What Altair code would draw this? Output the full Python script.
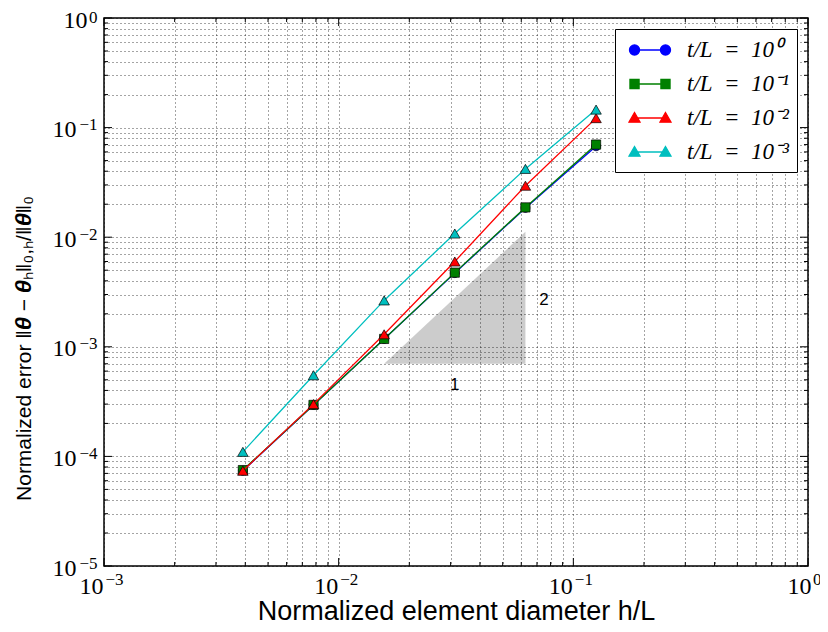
import altair as alt
import pandas as pd

# ---------------- data ----------------
h_values = [1/256, 1/128, 1/64, 1/32, 1/16, 1/8]
series_names = ["t/L\u2002=\u200210⁰", "t/L\u2002=\u200210⁻¹", "t/L\u2002=\u200210⁻²", "t/L\u2002=\u200210⁻³"]
err_t1 = [7.4e-5, 2.95e-4, 1.18e-3, 4.7e-3, 1.85e-2, 6.75e-2]
err_t01 = [7.5e-5, 2.95e-4, 1.18e-3, 4.75e-3, 1.87e-2, 7.0e-2]
err_t001 = [7.4e-5, 3.0e-4, 1.3e-3, 6.0e-3, 2.95e-2, 1.22e-1]
err_t0001 = [1.1e-4, 5.5e-4, 2.65e-3, 1.08e-2, 4.2e-2, 1.46e-1]
series_values = [err_t1, err_t01, err_t001, err_t0001]
series_colors = ["#0000ff", "#008000", "#ff0000", "#00bfbf"]
series_shapes = ["circle", "square", "triangle-up", "triangle-up"]
series_sizes = [80, 85, 110, 110]

x_major = [1e-3, 1e-2, 1e-1, 1.0]
x_exponents = ["−3", "−2", "−1", "0"]
y_major = [1e-5, 1e-4, 1e-3, 1e-2, 1e-1, 1.0]
y_exponents = ["−5", "−4", "−3", "−2", "−1", "0"]
tick_base = "10"
minor_mult = [2, 3, 4, 5, 6, 7, 8, 9]

slope_x = [1/64, 1/16]
slope_y = [7e-4, 1.12e-2]
slope_base = [7e-4, 7e-4]
slope_text = ["1", "2"]
slope_text_x = [1/32, 0.0749]
slope_text_y = [4.5e-4, 2.69e-3]

# ---------------- tables ----------------
rows = []
for name, vals in zip(series_names, series_values):
    for h, e in zip(h_values, vals):
        rows.append({"series": name, "h": h, "err": e})
df = pd.DataFrame(rows)

x_minor = [m * 10.0 ** e for e in range(-3, 0) for m in minor_mult]
y_minor = [m * 10.0 ** e for e in range(-5, 0) for m in minor_mult]
x_all = sorted(x_major + x_minor)
y_all = sorted(y_major + y_minor)


def label_expr(vals, labels):
    expr = "''"
    for v, l in zip(reversed(vals), reversed(labels)):
        expr = f"datum.value == {v!r} ? '{l}' : (" + expr + ")"
    return expr


def cond(test, a, b):
    return {"condition": {"test": test, "value": a}, "value": b}


W, H = 704, 548
xscale = alt.Scale(type="log", domain=[1e-3, 1.0], nice=False)
yscale = alt.Scale(type="log", domain=[1e-5, 1.0], nice=False)

common = dict(ticks=False, domain=False, labelOverlap=False, labelFlush=False,
              labelFont="Liberation Serif", labelColor="black",
              titleFont="Liberation Sans", titleFontWeight="normal", titleColor="black")
grid_kw = dict(grid=True, gridColor="#000000", gridDash=[1, 3], gridOpacity=0.8,
               gridWidth=0.9)
is_one = "datum.value == 1"

# base "10" axes (with grid and titles)
x_axis = alt.Axis(orient="bottom", values=x_all,
                  labelExpr=label_expr(x_major, [tick_base] * 4),
                  labelFontSize=24, labelAlign="right", labelPadding=8,
                  labelOffset=cond(is_one, 3, -1),
                  title="Normalized element diameter h/L", titleFontSize=27,
                  titleBaseline="alphabetic", titleY=53, **grid_kw, **common)
y_axis = alt.Axis(orient="left", values=y_all,
                  labelExpr=label_expr(y_major, [tick_base] * 6),
                  labelFontSize=24, labelAlign="right", labelBaseline="middle",
                  labelPadding=cond(is_one, 17, 28), labelOffset=2,
                  title="Normalized error ‖𝜽 − 𝜽ₕ‖₀,ₕ/‖𝜽‖₀", titleFontSize=21,
                  titleAngle=270, titleAlign="center", titleAnchor="middle",
                  titleBaseline="middle", titleX=-80, titleY=330, **grid_kw, **common)
# exponent axes (superscripts)
x_axis_exp = alt.Axis(orient="bottom", values=x_major,
                      labelExpr=label_expr(x_major, x_exponents),
                      labelFontSize=17, labelAlign="left", labelPadding=5,
                      labelOffset=cond(is_one, 4.5, 1), grid=False, title=None, **common)
y_axis_exp = alt.Axis(orient="left", values=y_major,
                      labelExpr=label_expr(y_major, y_exponents),
                      labelFontSize=17, labelAlign="right", labelBaseline="middle",
                      labelPadding=7, labelOffset=cond(is_one, -1, -3),
                      grid=False, title=None, **common)

layers = []

# slope triangle (carries the base axes)
tri_df = pd.DataFrame({"x": slope_x, "y": slope_y, "y2": slope_base})
layers.append(
    alt.Chart(tri_df).mark_area(color="black", opacity=0.2).encode(
        x=alt.X("x:Q", scale=xscale, axis=x_axis),
        y=alt.Y("y:Q", scale=yscale, axis=y_axis),
        y2="y2:Q",
    )
)

# slope labels (carry the exponent axes)
txt_df = pd.DataFrame({"x": slope_text_x, "y": slope_text_y, "t": slope_text})
layers.append(
    alt.Chart(txt_df).mark_text(font="Liberation Sans", fontSize=17, color="black",
                                baseline="middle", align="center").encode(
        x=alt.X("x:Q", scale=xscale, axis=x_axis_exp),
        y=alt.Y("y:Q", scale=yscale, axis=y_axis_exp),
        text="t:N",
    )
)

# series: line then markers, per series (matplotlib order)
for name, col, shp, sz in zip(series_names, series_colors, series_shapes, series_sizes):
    base = alt.Chart(df).transform_filter(alt.datum.series == name)
    layers.append(
        base.mark_line(color=col, strokeWidth=1.3).encode(
            x=alt.X("h:Q", scale=xscale, axis=None),
            y=alt.Y("err:Q", scale=yscale, axis=None),
        )
    )
    layers.append(
        base.mark_point(shape=shp, filled=True, fill=col, stroke="black",
                        strokeWidth=0.7, size=sz, opacity=1).encode(
            x=alt.X("h:Q", scale=xscale, axis=None),
            y=alt.Y("err:Q", scale=yscale, axis=None),
        )
    )

# inward ticks on all four sides
xt_major = pd.DataFrame({"v": x_major})
xt_minor = pd.DataFrame({"v": x_minor})
yt_major = pd.DataFrame({"v": y_major})
yt_minor = pd.DataFrame({"v": y_minor})
for tdf, ln in [(xt_major, 8), (xt_minor, 4)]:
    for y0, y1 in [(H, H - ln), (0, ln)]:
        layers.append(
            alt.Chart(tdf).mark_rule(color="black", strokeWidth=1).encode(
                x=alt.X("v:Q", scale=xscale, axis=None),
                y=alt.value(y0), y2=alt.value(y1),
            )
        )
for tdf, ln in [(yt_major, 8), (yt_minor, 4)]:
    for x0, x1 in [(0, ln), (W, W - ln)]:
        layers.append(
            alt.Chart(tdf).mark_rule(color="black", strokeWidth=1).encode(
                y=alt.Y("v:Q", scale=yscale, axis=None),
                x=alt.value(x0), x2=alt.value(x1),
            )
        )

# legend (symbols: line with a marker at each end)
U = 1.29


def circ(cx, r):
    return f"M{cx - r},0A{r},{r} 0 1,0 {cx + r},0A{r},{r} 0 1,0 {cx - r},0Z"


def sq(cx, r):
    return f"M{cx - r},{-r}L{cx + r},{-r}L{cx + r},{r}L{cx - r},{r}Z"


def tri(cx, r):
    return f"M{cx},{-r}L{cx + r},{r * 0.75}L{cx - r},{r * 0.75}Z"


line_path = f"M{-U},0L{U},0"
legend_paths = [
    line_path + circ(-U, 0.42) + circ(U, 0.42),
    line_path + sq(-U, 0.38) + sq(U, 0.38),
    line_path + tri(-U, 0.46) + tri(U, 0.46),
    line_path + tri(-U, 0.46) + tri(U, 0.46),
]

leg = alt.Legend(title=None, orient="top-right", offset=11, fillColor="white",
                 strokeColor="black", padding=8, rowPadding=9,
                 symbolSize=576, symbolStrokeWidth=1.3, symbolOffset=14,
                 labelFont="Liberation Serif", labelFontSize=23,
                 labelFontStyle="italic", labelColor="black", labelOffset=24,
                 labelLimit=300)
cs = alt.Scale(domain=series_names, range=series_colors)
layers.append(
    alt.Chart(df).transform_filter("false").mark_point(
        filled=True, opacity=1, size=576, strokeWidth=1.3).encode(
        x=alt.X("h:Q", scale=xscale, axis=None),
        y=alt.Y("err:Q", scale=yscale, axis=None),
        fill=alt.Fill("series:N", scale=cs, legend=leg),
        stroke=alt.Stroke("series:N", scale=cs, legend=leg),
        shape=alt.Shape("series:N", scale=alt.Scale(domain=series_names, range=legend_paths), legend=leg),
    )
)

chart = alt.layer(*layers).resolve_axis(x="independent", y="independent").properties(
    width=W, height=H,
    padding={"left": 96, "top": 10, "right": 12, "bottom": 62},
    autosize=alt.AutoSizeParams(type="none"),
    background="white",
).configure_view(stroke="black", strokeWidth=1.5)

chart.save("out.html", embed_options={"renderer": "svg", "actions": False})
